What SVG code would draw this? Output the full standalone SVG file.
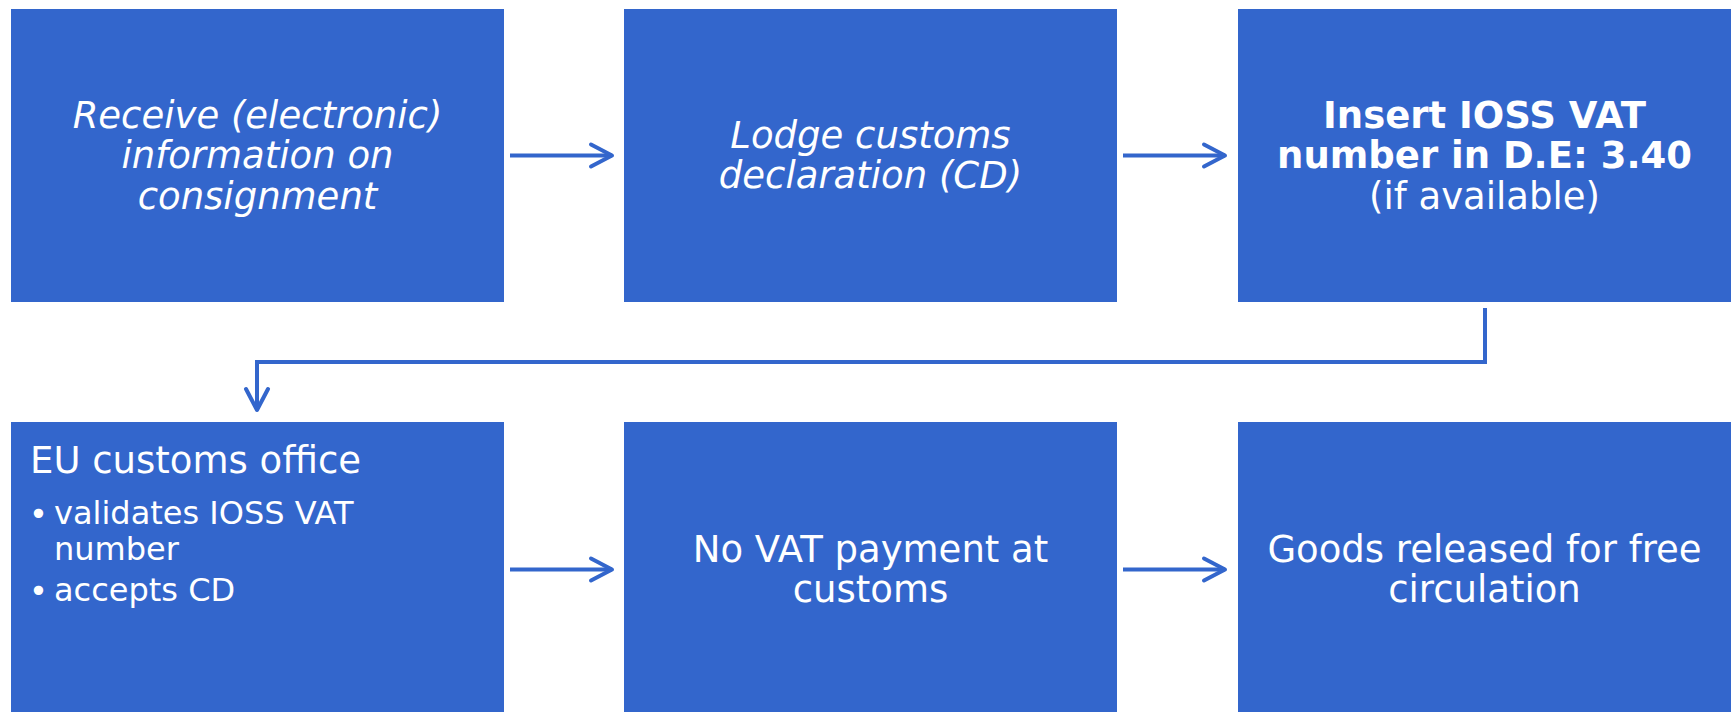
<svg xmlns="http://www.w3.org/2000/svg" width="1733" height="712" viewBox="0 0 1733 712">
<defs>
<style>
.box{fill:#3366CC;}
.t{font-family:"DejaVu Sans","Verdana",sans-serif;fill:#FFFFFF;font-size:37px;}
.c{text-anchor:middle;}
.i{font-style:italic;}
.b{font-weight:bold;}
.s{font-size:32px;}
.conn{fill:none;stroke:#3366CC;stroke-width:4;}
</style>
<marker id="arr" markerUnits="userSpaceOnUse" markerWidth="30" markerHeight="30" viewBox="-26 -14 30 28" refX="0" refY="0" orient="auto" overflow="visible">
<path d="M-21,-11 L0,0 L-21,11" fill="none" stroke="#3366CC" stroke-width="4" stroke-linecap="round" stroke-linejoin="round"/>
</marker>
</defs>
<rect width="1733" height="712" fill="#FFFFFF"/>
<g id="n1">
<rect class="box" x="11" y="9" width="493" height="293"/>
<text class="t c i" x="257.5" y="128">Receive (electronic)</text>
<text class="t c i" x="257.5" y="168">information on</text>
<text class="t c i" x="257.5" y="209">consignment</text>
</g>
<g id="n2">
<rect class="box" x="624" y="9" width="493" height="293"/>
<text class="t c i" x="870.5" y="148">Lodge customs</text>
<text class="t c i" x="870.5" y="188">declaration (CD)</text>
</g>
<g id="n3">
<rect class="box" x="1238" y="9" width="493" height="293"/>
<text class="t c b" x="1484.5" y="128">Insert IOSS VAT</text>
<text class="t c b" x="1484.5" y="168">number in D.E: 3.40</text>
<text class="t c" x="1484.5" y="209">(if available)</text>
</g>
<g id="n4">
<rect class="box" x="11" y="422" width="493" height="300"/>
<text class="t" x="30" y="473">EU customs office</text>
<text class="t s" x="29" y="525">•</text>
<text class="t s" x="54" y="524">validates IOSS VAT</text>
<text class="t s" x="54" y="560">number</text>
<text class="t s" x="29" y="602">•</text>
<text class="t s" x="54" y="601">accepts CD</text>
</g>
<g id="n5">
<rect class="box" x="624" y="422" width="493" height="300"/>
<text class="t c" x="870.5" y="562">No VAT payment at</text>
<text class="t c" x="870.5" y="602">customs</text>
</g>
<g id="n6">
<rect class="box" x="1238" y="422" width="493" height="300"/>
<text class="t c" x="1484.5" y="562">Goods released for free</text>
<text class="t c" x="1484.5" y="602">circulation</text>
</g>
<g id="connectors">
<path class="conn" d="M510,155.5 H612" marker-end="url(#arr)"/>
<path class="conn" d="M1123,155.5 H1225" marker-end="url(#arr)"/>
<path class="conn" d="M1485,308 V362 H257 V410" marker-end="url(#arr)"/>
<path class="conn" d="M510,569.5 H612" marker-end="url(#arr)"/>
<path class="conn" d="M1123,569.5 H1225" marker-end="url(#arr)"/>
</g>
</svg>
